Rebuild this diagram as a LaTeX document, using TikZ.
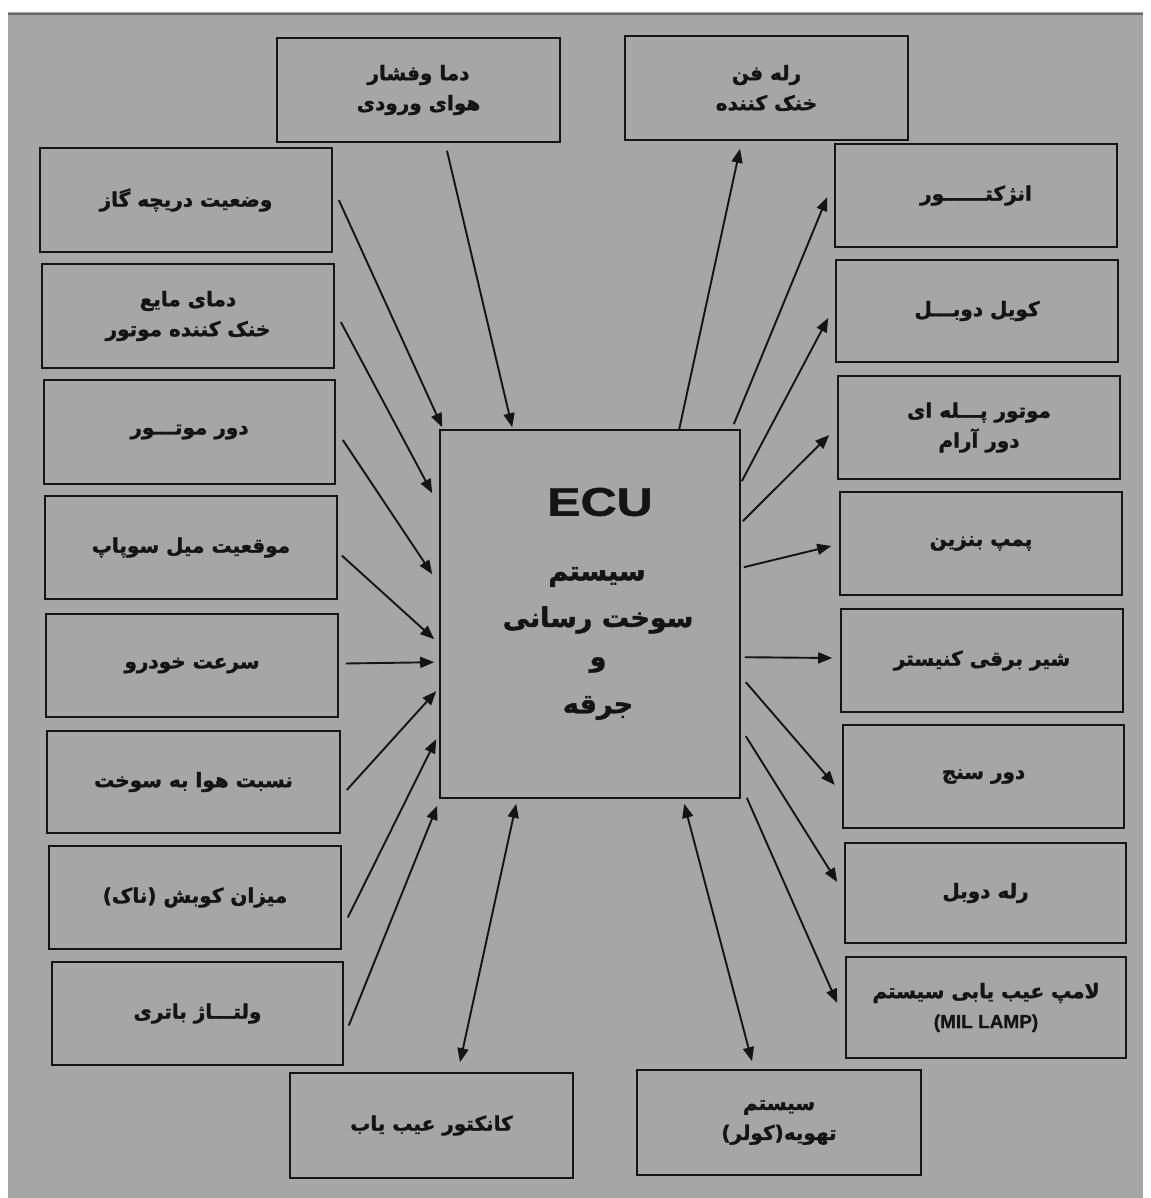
\documentclass[tikz,border=0pt]{standalone}
\usepackage{fontspec}
\setmainfont{DejaVu Sans}
\newfontfamily\fa[Script=Arabic, BoldFeatures={FakeBold=1.5}]{DejaVu Sans}
\newfontfamily\lat[BoldFeatures={FakeBold=1}]{Liberation Sans}
\TeXXeTstate=1
\usetikzlibrary{arrows.meta,calc}
\newcommand{\rtl}[1]{\beginR #1\endR}
\definecolor{bg}{HTML}{A6A6A6}
\definecolor{ink}{HTML}{141414}
\tikzset{
  box/.style={draw=ink, line width=1.6pt, inner sep=0pt, align=center,
    text=ink, font=\fa\bfseries\fontsize{20}{30}\selectfont},
  arr/.style={draw=ink, line width=1.9pt, -{Triangle[length=14pt,width=11pt]}},
  biarr/.style={draw=ink, line width=1.9pt, {Triangle[length=14pt,width=11pt]}-{Triangle[length=14pt,width=11pt]}},
  ecutxt/.style={text=ink, inner sep=0pt}
}
\begin{document}
\begin{tikzpicture}[x=1pt,y=-1pt]
\useasboundingbox (0,0) rectangle (1150,1198);
\fill[white] (0,0) rectangle (1150,1198);
\fill[bg] (8,12) rectangle (1143,1198);
\draw[black!60, line width=1.5pt] (8,14) -- (1143,14);

% top
\node[box, minimum width=283pt, minimum height=104pt] (T1) at (418.5,90) {\rtl{دما وفشار}\\\rtl{هوای ورودی}};
\node[box, minimum width=283pt, minimum height=104pt] (T2) at (766.5,88) {\rtl{رله فن}\\\rtl{خنک کننده}};
% left
\node[box, minimum width=292pt, minimum height=104pt] (L1) at (186,200) {\rtl{وضعیت دریچه گاز}};
\node[box, minimum width=292pt, minimum height=104pt] (L2) at (188,316) {\rtl{دمای مایع}\\\rtl{خنک کننده موتور}};
\node[box, minimum width=291pt, minimum height=104pt] (L3) at (189.5,432) {\rtl{دور موتـــور}};
\node[box, minimum width=292pt, minimum height=103pt] (L4) at (191,547.5) {\rtl{موقعیت میل سوپاپ}};
\node[box, minimum width=292pt, minimum height=103pt] (L5) at (192,665.5) {\rtl{سرعت خودرو}};
\node[box, minimum width=293pt, minimum height=102pt] (L6) at (193.5,782) {\rtl{نسبت هوا به سوخت}};
\node[box, minimum width=292pt, minimum height=103pt] (L7) at (195,897.5) {\rtl{میزان کوبش (ناک)}};
\node[box, minimum width=291pt, minimum height=103pt] (L8) at (197.5,1013.5) {\rtl{ولتـــاژ باتری}};
% right
\node[box, minimum width=282pt, minimum height=103pt] (R1) at (976,195.5) {\rtl{انژکتــــــور}};
\node[box, minimum width=282pt, minimum height=102pt] (R2) at (977,311) {\rtl{کویل دوبـــل}};
\node[box, minimum width=282pt, minimum height=103pt] (R3) at (979,427.5) {\rtl{موتور پـــله ای}\\\rtl{دور آرام}};
\node[box, minimum width=282pt, minimum height=103pt] (R4) at (981,543.5) {\rtl{پمپ بنزین}};
\node[box, minimum width=282pt, minimum height=103pt] (R5) at (982,660.5) {\rtl{شیر برقی کنیستر}};
\node[box, minimum width=281pt, minimum height=103pt] (R6) at (983.5,776.5) {\rtl{دور سنج}};
\node[box, minimum width=281pt, minimum height=100pt] (R7) at (985.5,893) {\rtl{رله دوبل}};
\node[box, minimum width=280pt, minimum height=101pt] (R8) at (986,1007.5) {\rtl{لامپ عیب یابی سیستم}\\{\lat\bfseries\fontsize{19}{30}\selectfont (MIL LAMP)}};
% bottom
\node[box, minimum width=283pt, minimum height=105pt] (B1) at (431.5,1125.5) {\rtl{کانکتور عیب یاب}};
\node[box, minimum width=284pt, minimum height=105pt] (B2) at (779,1122.5) {\rtl{سیستم}\\\rtl{تهویه(کولر)}};
% ECU
\node[box, minimum width=300pt, minimum height=368pt] (ECU) at (590,614) {};
\node[ecutxt, font=\lat\bfseries\fontsize{40}{40}\selectfont] (ecut) at (600,502) {\scalebox{1.25}[1]{ECU}};
\node[ecutxt, font=\fa\bfseries\fontsize{27}{30}\selectfont] (e1) at (597,577) {\rtl{سیستم}};
\node[ecutxt, font=\fa\bfseries\fontsize{27}{30}\selectfont] (e2) at (598,620) {\rtl{سوخت رسانی}};
\node[ecutxt, font=\fa\bfseries\fontsize{27}{30}\selectfont] (e3) at (598,665) {\rtl{و}};
\node[ecutxt, font=\fa\bfseries\fontsize{27}{30}\selectfont] (e4) at (598,708) {\rtl{جرقه}};

% inputs
\draw[arr] ($(L1.east)+(6,0)$) -- ($(ECU.north west)+(3,-2)$);
\draw[arr] ($(T1.south)+(28.5,8)$) -- ($(ECU.north west)+(73,-2)$);
\draw[arr] ($(L2.east)+(6,6)$) -- ($(ECU.north west)+(-7,64)$);
\draw[arr] ($(L3.east)+(7,8)$) -- ($(ECU.north west)+(-7,145)$);
\draw[arr] ($(L4.east)+(4,8)$) -- ($(ECU.north west)+(-5,210)$);
\draw[arr] ($(L5.east)+(7,-2)$) -- ($(ECU.north west)+(-5,233)$);
\draw[arr] ($(L6.east)+(6,8)$) -- ($(ECU.north west)+(-3,262)$);
\draw[arr] ($(L7.east)+(6,20)$) -- ($(ECU.north west)+(-3,310)$);
\draw[arr] ($(L8.east)+(5,12)$) -- ($(ECU.south west)+(-2,7)$);
% bidirectional
\draw[biarr] ($(B1.north)+(28.5,-10)$) -- ($(ECU.south west)+(77,5)$);
\draw[biarr] ($(ECU.south west)+(245,5)$) -- ($(B2.north)+(-27,-8)$);
% outputs
\draw[arr] ($(ECU.north west)+(240,0)$) -- ($(T2.south)+(-26.5,8)$);
\draw[arr] ($(ECU.north east)+(-7,-5)$) -- ($(R1.west)+(-7,1.5)$);
\draw[arr] ($(ECU.north east)+(1,52)$) -- ($(R2.west)+(-7,7)$);
\draw[arr] ($(ECU.north east)+(2,92)$) -- ($(R3.west)+(-8,7.5)$);
\draw[arr] ($(ECU.north east)+(3,138)$) -- ($(R4.west)+(-8,2.5)$);
\draw[arr] ($(ECU.north east)+(4,228)$) -- ($(R5.west)+(-8,-2.5)$);
\draw[arr] ($(ECU.north east)+(5,253)$) -- ($(R6.west)+(-7.5,8.5)$);
\draw[arr] ($(ECU.north east)+(5,307)$) -- ($(R7.west)+(-7,-11)$);
\draw[arr] ($(ECU.south east)+(6,-1)$) -- ($(R8.west)+(-8,-4.5)$);
\end{tikzpicture}
\end{document}
